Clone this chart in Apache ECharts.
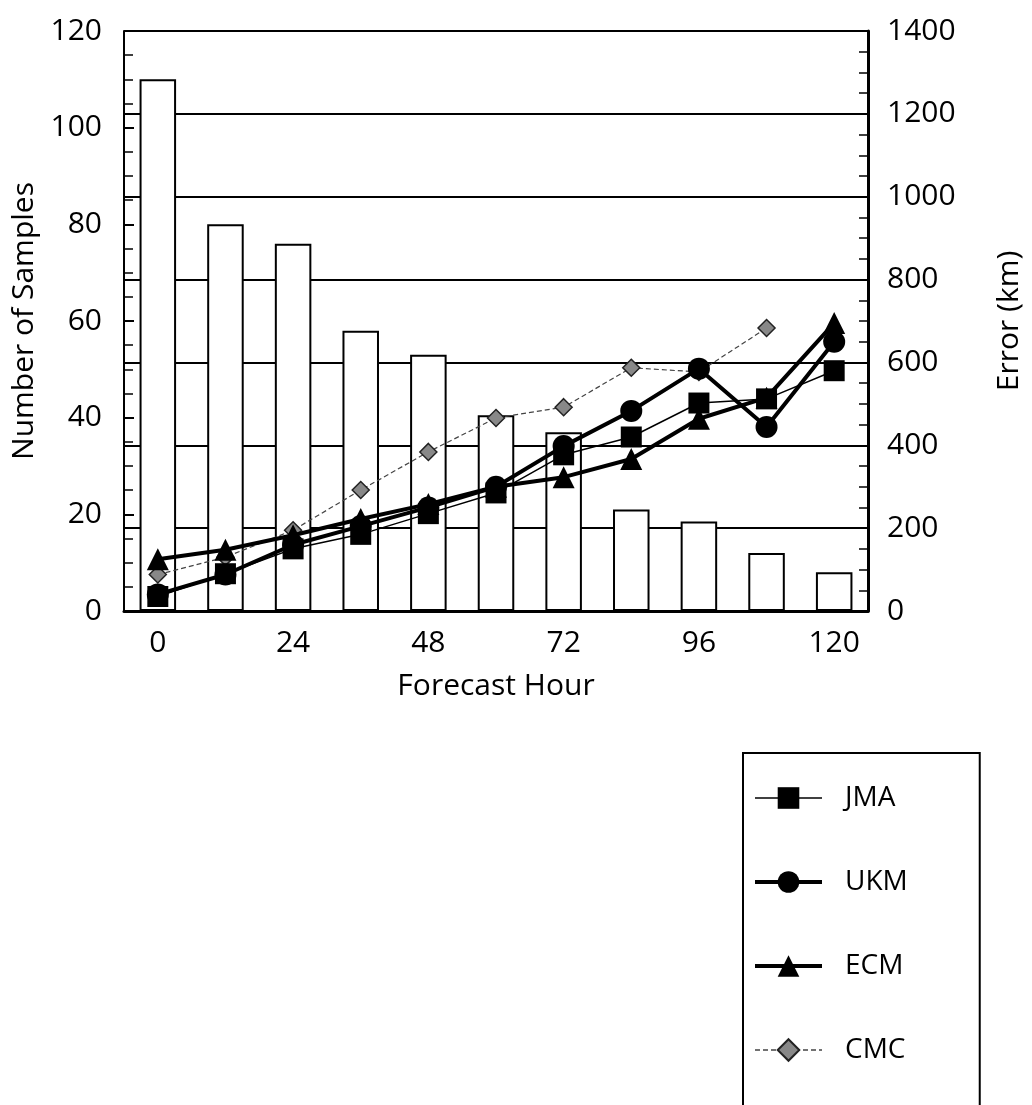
<!DOCTYPE html>
<html>
<head>
<meta charset="utf-8">
<script src="https://cdn.jsdelivr.net/npm/echarts@6/dist/echarts.min.js"></script>
<style>
  html, body { margin: 0; padding: 0; background: #fff; }
  #main { width: 1032px; height: 1105px; }
</style>
</head>
<body>
<div id="main"></div>
<script>
// forecast hours (category axis)
var hours = ['0', '12', '24', '36', '48', '60', '72', '84', '96', '108', '120'];
// number of samples (left axis, bars)
var samples = [110, 80, 76, 58, 53, 40.5, 37, 21, 18.5, 12, 8];
// track errors in km (right axis)
var jma = [35, 90, 150, 185, 235, 285, 377, 420, 502, 512, 580];
var ukm = [40, 88, 160, 205, 250, 300, 398, 483, 585, 444, 650];
var ecm = [125, 148, 183, 222, 258, 300, 323, 367, 464, 515, 695];
var cmc = [88, 130, 195, 292, 384, 466, 492, 587, 577, 683, null];

var FONT = "'Open Sans', 'Noto Sans', sans-serif";

var chartDom = document.getElementById('main');
var myChart = echarts.init(chartDom);
var option;

option = {
  backgroundColor: '#fff',
  animation: false,
  textStyle: { fontFamily: FONT, color: '#000' },
  grid: { left: 124, right: 163, top: 31, bottom: 494 },
  legend: {
    orient: 'vertical',
    left: 743,
    top: 753,
    height: 420,
    data: [
      { name: 'JMA', lineStyle: { width: 1.5 } },
      { name: 'UKM', lineStyle: { width: 4 } },
      { name: 'ECM', lineStyle: { width: 4 } },
      { name: 'CMC', lineStyle: { width: 1.5 } }
    ],
    itemWidth: 67,
    itemHeight: 27,
    itemGap: 56,
    padding: [31, 72, 70, 10],
    borderColor: '#000',
    borderWidth: 2,
    borderRadius: 0,
    textStyle: { fontSize: 28, color: '#000', fontFamily: FONT, padding: [0, 0, 0, 18] }
  },
  xAxis: {
    type: 'category',
    data: hours,
    name: 'Forecast Hour',
    nameLocation: 'middle',
    nameGap: 60,
    nameTextStyle: { fontSize: 30, color: '#000' },
    axisLine: { lineStyle: { color: '#000', width: 3 } },
    axisTick: { show: false },
    axisLabel: { interval: 1, fontSize: 30, color: '#000', margin: 17 }
  },
  yAxis: [
    {
      type: 'value',
      min: 0,
      max: 120,
      interval: 20,
      name: 'Number of Samples',
      nameLocation: 'middle',
      nameGap: 73,
      nameTextStyle: { fontSize: 30, color: '#000' },
      axisLine: { show: true, lineStyle: { color: '#000', width: 2 } },
      axisTick: { show: true, inside: true, length: 10, lineStyle: { color: '#000', width: 2 } },
      minorTick: { show: true, splitNumber: 4, length: 9, lineStyle: { color: '#000', width: 1.5 } },
      axisLabel: { fontSize: 30, color: '#000', margin: 22 },
      splitLine: { show: false }
    },
    {
      type: 'value',
      min: 0,
      max: 1400,
      interval: 200,
      name: 'Error (km)',
      nameLocation: 'middle',
      nameGap: 126,
      nameTextStyle: { fontSize: 30, color: '#000' },
      axisLine: { show: true, lineStyle: { color: '#000', width: 3 } },
      axisTick: { show: true, inside: true, length: 10, lineStyle: { color: '#000', width: 2 } },
      minorTick: { show: true, splitNumber: 4, length: 9, lineStyle: { color: '#000', width: 1.5 } },
      axisLabel: { fontSize: 30, color: '#000', margin: 19, formatter: function (v) { return String(v); } },
      splitLine: { show: true, lineStyle: { color: '#000', width: 2 } }
    }
  ],
  series: [
    {
      name: 'Samples',
      type: 'bar',
      yAxisIndex: 0,
      data: samples,
      barWidth: '54%',
      itemStyle: { color: '#fff', borderColor: '#000', borderWidth: 2 },
      z: 2
    },
    {
      name: 'CMC',
      type: 'line',
      yAxisIndex: 1,
      data: cmc,
      symbol: 'diamond',
      symbolSize: 17,
      lineStyle: { color: '#444', width: 1.2, type: [5, 3] },
      itemStyle: { color: '#888', borderColor: '#222', borderWidth: 1.5 },
      z: 3
    },
    {
      name: 'JMA',
      type: 'line',
      yAxisIndex: 1,
      data: jma,
      symbol: 'rect',
      symbolSize: 21,
      lineStyle: { color: '#000', width: 1.5 },
      itemStyle: { color: '#000' },
      z: 4
    },
    {
      name: 'ECM',
      type: 'line',
      yAxisIndex: 1,
      data: ecm,
      symbol: 'triangle',
      symbolSize: 22,
      lineStyle: { color: '#000', width: 4 },
      itemStyle: { color: '#000' },
      z: 5
    },
    {
      name: 'UKM',
      type: 'line',
      yAxisIndex: 1,
      data: ukm,
      symbol: 'circle',
      symbolSize: 22,
      lineStyle: { color: '#000', width: 4 },
      itemStyle: { color: '#000' },
      z: 6
    }
  ]
};
option && myChart.setOption(option);
</script>
</body>
</html>
